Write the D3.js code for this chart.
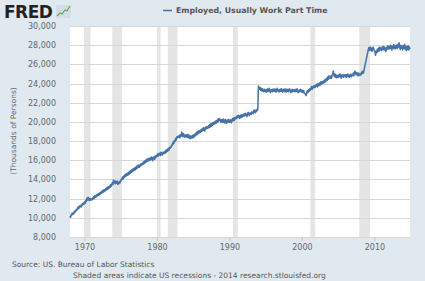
<!DOCTYPE html>
<html>
<head>
<meta charset="utf-8">
<script src="https://cdnjs.cloudflare.com/ajax/libs/d3/7.8.5/d3.min.js"></script>
<style>
  body { margin: 0; background: #e1e9f0; }
  text { font-family: "DejaVu Sans", Verdana, sans-serif; }
</style>
</head>
<body>
<div id="app"></div>
<script>
// monthly values, thousands of persons, one row per year starting 1968
var startYear = 1968
var partTime = [
  [10200, 10050, 10350, 10280, 10500, 10420, 10380, 10650, 10550, 10800, 10700, 10900],
  [10850, 11100, 10950, 11200, 11050, 11300, 11250, 11150, 11450, 11350, 11550, 11400],
  [11650, 11500, 11800, 11700, 12050, 11850, 12150, 11900, 11800, 12050, 11850, 11950],
  [11850, 12050, 11950, 12200, 12000, 12300, 12150, 12350, 12200, 12450, 12300, 12500],
  [12350, 12600, 12450, 12700, 12550, 12800, 12650, 12900, 12700, 12950, 12800, 13050],
  [12900, 13150, 12950, 13250, 13050, 13300, 13150, 13450, 13250, 13500, 13650, 13450],
  [13950, 13650, 13850, 13550, 13800, 13600, 13850, 13500, 13700, 13550, 13800, 13650],
  [13850, 14050, 13950, 14250, 14050, 14350, 14200, 14500, 14300, 14600, 14400, 14650],
  [14450, 14750, 14550, 14850, 14650, 14950, 14750, 15050, 14850, 15150, 14950, 15200],
  [15000, 15300, 15100, 15400, 15200, 15500, 15300, 15250, 15550, 15400, 15650, 15500],
  [15600, 15800, 15600, 15900, 15700, 16000, 15800, 16100, 15900, 16150, 15950, 16200],
  [16000, 16250, 16050, 16350, 16150, 15950, 16350, 16200, 16100, 16450, 16250, 16500],
  [16400, 16650, 16450, 16700, 16550, 16750, 16500, 16850, 16650, 16550, 16850, 16700],
  [16700, 16950, 16750, 17050, 16850, 17150, 16950, 17250, 17050, 17350, 17250, 17450],
  [17400, 17700, 17600, 17950, 17750, 18050, 17950, 18300, 18100, 18450, 18350, 18500],
  [18400, 18600, 18350, 18650, 18500, 18950, 18600, 18450, 18800, 18550, 18400, 18650],
  [18450, 18650, 18400, 18700, 18350, 18600, 18300, 18550, 18250, 18500, 18350, 18600],
  [18350, 18650, 18450, 18750, 18550, 18900, 18650, 19000, 18750, 19050, 18850, 19100],
  [18900, 19200, 19000, 19300, 19100, 19400, 19150, 19050, 19450, 19250, 19500, 19300],
  [19350, 19600, 19400, 19700, 19450, 19800, 19550, 19850, 19650, 19950, 19750, 20000],
  [19800, 20100, 19850, 20150, 19950, 20300, 20050, 20350, 20150, 20250, 19950, 20200],
  [20250, 19950, 20300, 20050, 19900, 20250, 20000, 19850, 20200, 19950, 20250, 20050],
  [19950, 20250, 20050, 19900, 20200, 20350, 20100, 20400, 20150, 20450, 20300, 20500],
  [20350, 20650, 20450, 20700, 20500, 20350, 20700, 20450, 20750, 20500, 20650, 20800],
  [20600, 20850, 20650, 20900, 20700, 20550, 20850, 21000, 20750, 20650, 20950, 20800],
  [20800, 21050, 20900, 20850, 21100, 21250, 21000, 20950, 21250, 21100, 21350, 21250],
  [23750, 23500, 23400, 23600, 23300, 23500, 23200, 23450, 23250, 23150, 23400, 23200],
  [23350, 23100, 23300, 23450, 23150, 23350, 23500, 23200, 23050, 23350, 23200, 23400],
  [23150, 23350, 23450, 23200, 23400, 23100, 23300, 23500, 23300, 23150, 23350, 23150],
  [23400, 23200, 23450, 23250, 23100, 23400, 23250, 23150, 23450, 23250, 23100, 23400],
  [23200, 23400, 23150, 23350, 23450, 23200, 23050, 23300, 23400, 23150, 23350, 23200],
  [23350, 23150, 23400, 23200, 23450, 23250, 23050, 23250, 23350, 23150, 23400, 23200],
  [23100, 23300, 23050, 23250, 23000, 22950, 22850, 22750, 23050, 23250, 23050, 23350],
  [23200, 23450, 23300, 23550, 23700, 23400, 23600, 23750, 23550, 23800, 23600, 23850],
  [23700, 23950, 23650, 24000, 23800, 24050, 23800, 24150, 23900, 24200, 24000, 24250],
  [24050, 24350, 24100, 24450, 24250, 24550, 24350, 24700, 24450, 24800, 24600, 24550],
  [24800, 24550, 24850, 25050, 25300, 24850, 24700, 25000, 24650, 24900, 24600, 24850],
  [24650, 24900, 24700, 25000, 24750, 24550, 24900, 24700, 24950, 24650, 24850, 24900],
  [24700, 24950, 24650, 24850, 25000, 24700, 24900, 24650, 24850, 25000, 24700, 24900],
  [24850, 25100, 24800, 25150, 25300, 25000, 24900, 25150, 24950, 24800, 25100, 24900],
  [24850, 25050, 24900, 25200, 25050, 25300, 25100, 25450, 25750, 26050, 26350, 26650],
  [26950, 27250, 27550, 27750, 27450, 27800, 27500, 27700, 27350, 27600, 27800, 27550],
  [27450, 27250, 26950, 27400, 27200, 27600, 27350, 27700, 27400, 27800, 27500, 27700],
  [27450, 27800, 27550, 27900, 27500, 27800, 27600, 27350, 27750, 27550, 27950, 27650],
  [27600, 27900, 27650, 28000, 27700, 27500, 27900, 27650, 28050, 27750, 27600, 27950],
  [27700, 28000, 27650, 28100, 27800, 28250, 27750, 27550, 28000, 27650, 27900, 27500],
  [27950, 27700, 28100, 27550, 27900, 27450, 27850, 27550, 27950, 27500, 27800, 27600]
]

// recession periods (peak month, trough month)
var recessions = [
  ["1969-12", "1970-11"], ["1973-11", "1975-03"], ["1980-01", "1980-07"],
  ["1981-07", "1982-11"], ["1990-07", "1991-03"], ["2001-03", "2001-11"],
  ["2007-12", "2009-06"]
]

var yTicks = [8000, 10000, 12000, 14000, 16000, 18000, 20000, 22000, 24000, 26000, 28000, 30000]
var xTicks = [1970, 1980, 1990, 2000, 2010]

var parseMonth = d3.timeParse("%Y-%m")

// flatten into {date, value}
var data = []
partTime.forEach(function (row, i) {
  row.forEach(function (v, m) {
    data.push({ date: new Date(startYear + i, m, 1), value: v })
  })
})

var width = 425, height = 281
var plot = { left: 70, right: 410, top: 26, bottom: 237 }

var x = d3.scaleTime()
  .domain(d3.extent(data, function (d) { return d.date }))
  .range([plot.left, plot.right])

var y = d3.scaleLinear()
  .domain([8000, 30000])
  .range([plot.bottom, plot.top])

var svg = d3.select("#app")
  .append("svg")
  .attr("width", width)
  .attr("height", height)

// plot background
svg.append("rect")
  .attr("x", plot.left)
  .attr("y", plot.top)
  .attr("width", plot.right - plot.left)
  .attr("height", plot.bottom - plot.top)
  .attr("fill", "#fff")

// recession bars
svg.selectAll(".rec")
  .data(recessions)
  .enter()
  .append("rect")
  .attr("class", "rec")
  .attr("x", function (d) { return x(parseMonth(d[0])) })
  .attr("y", plot.top)
  .attr("width", function (d) { return x(parseMonth(d[1])) - x(parseMonth(d[0])) })
  .attr("height", plot.bottom - plot.top)
  .attr("fill", "#e5e5e5")

// horizontal grid
svg.selectAll(".grid")
  .data(yTicks)
  .enter()
  .append("line")
  .attr("class", "grid")
  .attr("x1", plot.left)
  .attr("x2", plot.right)
  .attr("y1", function (d) { return Math.round(y(d)) + 0.5 })
  .attr("y2", function (d) { return Math.round(y(d)) + 0.5 })
  .attr("stroke", "#d8d8d8")
  .attr("stroke-width", 1)

// y axis labels
svg.selectAll(".ylab")
  .data(yTicks)
  .enter()
  .append("text")
  .attr("class", "ylab")
  .attr("x", 56)
  .attr("y", function (d) { return y(d) + 3 })
  .attr("text-anchor", "end")
  .attr("font-size", 8)
  .attr("fill", "#666")
  .text(d3.format(","))

// x axis ticks + labels
var xAxis = d3.axisBottom(x)
  .tickValues(xTicks.map(function (t) { return new Date(t, 0, 1) }))
  .tickFormat(d3.timeFormat("%Y"))
  .tickSize(4)
  .tickPadding(3)

var gx = svg.append("g")
  .attr("transform", "translate(0," + plot.bottom + ")")
  .call(xAxis)
gx.select(".domain").remove()
gx.selectAll("line").attr("stroke", "#c0c8d0")
gx.selectAll("text")
  .attr("font-size", 8)
  .attr("fill", "#666")
  .attr("font-family", "DejaVu Sans, Verdana, sans-serif")

// the series line
var line = d3.line()
  .x(function (d) { return x(d.date) })
  .y(function (d) { return y(d.value) })

svg.append("path")
  .datum(data)
  .attr("d", line)
  .attr("fill", "none")
  .attr("stroke", "#4572a7")
  .attr("stroke-width", 1.5)
  .attr("stroke-linejoin", "round")

// y axis title
svg.append("text")
  .attr("transform", "translate(16,131) rotate(-90)")
  .attr("text-anchor", "middle")
  .attr("font-size", 7.5)
  .attr("fill", "#666")
  .text("(Thousands of Persons)")

// legend / title
svg.append("line")
  .attr("x1", 163).attr("x2", 172)
  .attr("y1", 10.5).attr("y2", 10.5)
  .attr("stroke", "#4572a7")
  .attr("stroke-width", 1.5)

svg.append("text")
  .attr("x", 176)
  .attr("y", 13)
  .attr("font-size", 7.8)
  .attr("font-weight", "bold")
  .attr("fill", "#555")
  .text("Employed, Usually Work Part Time")

// FRED logo
svg.append("text")
  .attr("x", 4)
  .attr("y", 18)
  .attr("font-size", 17)
  .attr("font-weight", "bold")
  .attr("fill", "#222")
  .attr("letter-spacing", -0.5)
  .text("FRED")

svg.append("rect")
  .attr("x", 56).attr("y", 5)
  .attr("width", 15).attr("height", 13)
  .attr("fill", "#d4dde6")

svg.append("polyline")
  .attr("points", "57,16 60,13 62,14 65,10 67,11 70,6")
  .attr("fill", "none")
  .attr("stroke", "#6aa84f")
  .attr("stroke-width", 1.2)

// footer
svg.append("text")
  .attr("x", 12)
  .attr("y", 267)
  .attr("font-size", 7.5)
  .attr("fill", "#555")
  .text("Source: US. Bureau of Labor Statistics")

svg.append("text")
  .attr("x", 73)
  .attr("y", 278)
  .attr("font-size", 7.5)
  .attr("fill", "#555")
  .text("Shaded areas indicate US recessions - 2014 research.stlouisfed.org")
</script>
</body>
</html>
